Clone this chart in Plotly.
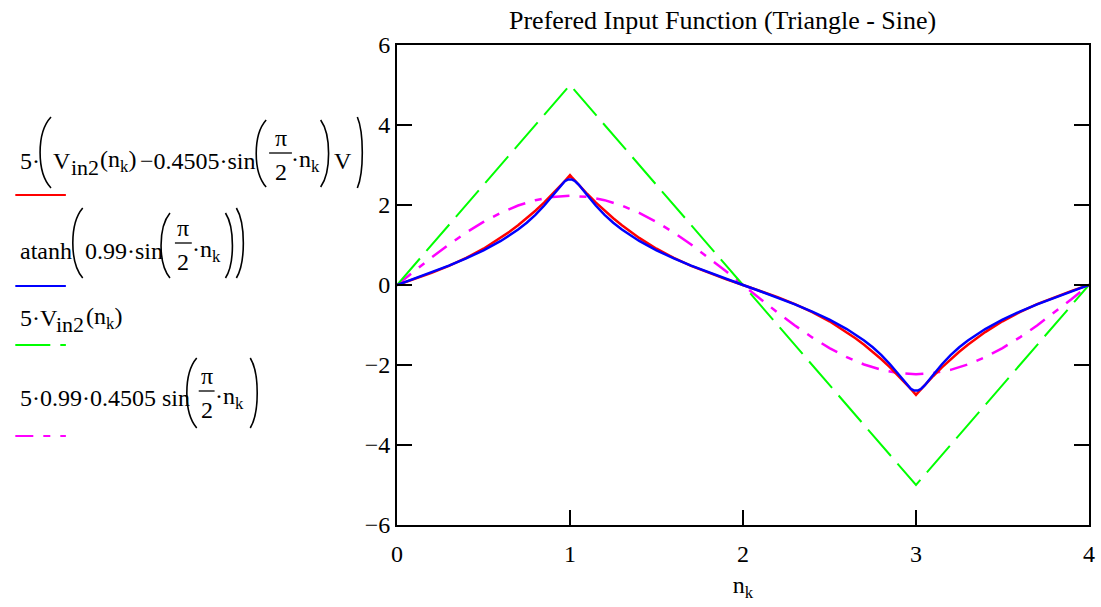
import plotly.graph_objects as go

# ---- data ----
n_curve = [0, 0.1, 0.2, 0.3, 0.4, 0.5, 0.6, 0.65, 0.7, 0.75, 0.8, 0.85, 0.9, 0.95, 0.97, 0.99, 1.0,
           1.01, 1.03, 1.05, 1.1, 1.15, 1.2, 1.25, 1.3, 1.35, 1.4, 1.5, 1.6, 1.7, 1.8, 1.9, 2.0,
           2.1, 2.2, 2.3, 2.4, 2.5, 2.6, 2.65, 2.7, 2.75, 2.8, 2.85, 2.9, 2.95, 2.97, 2.99, 3.0,
           3.01, 3.03, 3.05, 3.1, 3.15, 3.2, 3.25, 3.3, 3.35, 3.4, 3.5, 3.6, 3.7, 3.8, 3.9, 4.0]

red_vals = [0, 0.1476, 0.3039, 0.4774, 0.6760, 0.9072, 1.1777, 1.3294, 1.4930, 1.6690, 1.8577, 2.0597, 2.2752, 2.5044, 2.6000, 2.6978, 2.7475,
            2.6978, 2.6000, 2.5044, 2.2752, 2.0597, 1.8577, 1.6690, 1.4930, 1.3294, 1.1777, 0.9072, 0.6760, 0.4774, 0.3039, 0.1476, 0,
            -0.1476, -0.3039, -0.4774, -0.6760, -0.9072, -1.1777, -1.3294, -1.4930, -1.6690, -1.8577, -2.0597, -2.2752, -2.5044, -2.6000, -2.6978, -2.7475,
            -2.6978, -2.6000, -2.5044, -2.2752, -2.0597, -1.8577, -1.6690, -1.4930, -1.3294, -1.1777, -0.9072, -0.6760, -0.4774, -0.3039, -0.1476, 0]

blue_vals = [0, 0.1561, 0.3161, 0.4840, 0.6653, 0.8674, 1.1012, 1.2353, 1.3852, 1.5552, 1.7515, 1.9809, 2.2451, 2.5128, 2.5942, 2.6406, 2.6467,
             2.6406, 2.5942, 2.5128, 2.2451, 1.9809, 1.7515, 1.5552, 1.3852, 1.2353, 1.1012, 0.8674, 0.6653, 0.4840, 0.3161, 0.1561, 0,
             -0.1561, -0.3161, -0.4840, -0.6653, -0.8674, -1.1012, -1.2353, -1.3852, -1.5552, -1.7515, -1.9809, -2.2451, -2.5128, -2.5942, -2.6406, -2.6467,
             -2.6406, -2.5942, -2.5128, -2.2451, -1.9809, -1.7515, -1.5552, -1.3852, -1.2353, -1.1012, -0.8674, -0.6653, -0.4840, -0.3161, -0.1561, 0]

n_tri = [0, 1, 2, 3, 4]
green_vals = [0, 5, 0, -5, 0]

n_sine = [0, 0.1, 0.2, 0.3, 0.4, 0.5, 0.6, 0.7, 0.8, 0.9, 1.0,
          1.1, 1.2, 1.3, 1.4, 1.5, 1.6, 1.7, 1.8, 1.9, 2.0,
          2.1, 2.2, 2.3, 2.4, 2.5, 2.6, 2.7, 2.8, 2.9, 3.0,
          3.1, 3.2, 3.3, 3.4, 3.5, 3.6, 3.7, 3.8, 3.9, 4.0]
magenta_vals = [0, 0.3488, 0.6891, 1.0124, 1.3108, 1.5768, 1.8041, 1.9869, 2.1209, 2.2025, 2.2300,
                2.2025, 2.1209, 1.9869, 1.8041, 1.5768, 1.3108, 1.0124, 0.6891, 0.3488, 0,
                -0.3488, -0.6891, -1.0124, -1.3108, -1.5768, -1.8041, -1.9869, -2.1209, -2.2025, -2.2300,
                -2.2025, -2.1209, -1.9869, -1.8041, -1.5768, -1.3108, -1.0124, -0.6891, -0.3488, 0]

x_ticks = [0, 1, 2, 3, 4]
y_ticks = [-6, -4, -2, 0, 2, 4, 6]
y_tick_labels = ["−6", "−4", "−2", "0", "2", "4", "6"]

title_text = "Prefered Input Function (Triangle - Sine)"
x_title = "n<sub>k</sub>"

FONT = "Liberation Serif"

# plot area in pixels
W, H = 1101, 607
L, R, T, B = 397, 1095, 45, 525


def px(x):
    return (x - L) / (R - L)


def py(y):
    return (B - y) / (B - T)


fig = go.Figure()
fig.add_trace(go.Scatter(x=n_sine, y=magenta_vals, mode="lines",
                         line=dict(color="#ff00ff", width=2.5, dash="18px,10px,7px,10px")))
fig.add_trace(go.Scatter(x=n_tri, y=green_vals, mode="lines",
                         line=dict(color="#00ff00", width=2, dash="35px,10px")))
fig.add_trace(go.Scatter(x=n_curve, y=red_vals, mode="lines",
                         line=dict(color="#ff0000", width=2.5)))
fig.add_trace(go.Scatter(x=n_curve, y=blue_vals, mode="lines",
                         line=dict(color="#0000ff", width=2.5)))

annotations = []
shapes = []


def text_at(s, x, y, size=24, anchor="left"):
    annotations.append(dict(text=s, x=px(x), y=py(y), xref="paper", yref="paper",
                            showarrow=False, font=dict(family=FONT, size=size, color="black"),
                            xanchor=anchor, yanchor="middle", borderpad=0, borderwidth=0))


def paren(a, b, top, bot, left=True):
    if left:
        xe, xm = b - 2, a + 2
    else:
        xe, xm = a + 2, b - 2
    xc = (xm - 0.25 * xe) / 0.75
    h = bot - top
    path = "M {:.5f},{:.5f} C {:.5f},{:.5f} {:.5f},{:.5f} {:.5f},{:.5f}".format(
        px(xe), py(top), px(xc), py(top + 0.22 * h), px(xc), py(bot - 0.22 * h), px(xe), py(bot))
    shapes.append(dict(type="path", xref="paper", yref="paper", path=path,
                       line=dict(color="black", width=1.6)))


def fraction(xc, x0, x1, bar_y):
    text_at("π", xc, bar_y - 15, anchor="center")
    shapes.append(dict(type="line", xref="paper", yref="paper",
                       x0=px(x0), x1=px(x1), y0=py(bar_y), y1=py(bar_y),
                       line=dict(color="black", width=1.3)))
    text_at("2", xc, bar_y + 19, anchor="center")


def sample(x0, x1, y, color, dash):
    shapes.append(dict(type="line", xref="paper", yref="paper",
                       x0=px(x0), x1=px(x1), y0=py(y), y1=py(y),
                       line=dict(color=color, width=2, dash=dash)))


# title
text_at(title_text, 725, 20, size=26, anchor="center")

# legend entry 1
t = 161
text_at("5·", 17, t)
paren(35, 50, 117, 188, True)
text_at("V", 50, t)
text_at("in2", 68, t + 6, size=22)
text_at("(n<sub>k</sub>)", 97, t)
text_at("−0.4505·sin", 138, t)
paren(253, 267, 120, 187, True)
fraction(280, 268, 291, 153)
text_at("·n<sub>k</sub>", 290, t)
paren(318, 330, 120, 187, False)
text_at("V", 333, t)
paren(355, 364, 117, 188, False)
sample(12, 63, 195, "#ff0000", "solid")

# legend entry 2
t = 251
text_at("atanh", 17, t)
paren(68, 82, 208, 278, True)
text_at("0.99·sin", 82, t)
paren(157, 170, 213, 278, True)
fraction(181, 173, 190, 243)
text_at("·n<sub>k</sub>", 190, t)
paren(222, 233, 213, 278, False)
paren(233, 244, 208, 278, False)
sample(12, 63, 286, "#0000ff", "solid")

# legend entry 3
t = 318
text_at("5·V", 17, t)
text_at("in2", 53, t + 6, size=22)
text_at("(n<sub>k</sub>)", 83, t)
sample(12, 63, 345, "#00ff00", "35px,10px")

# legend entry 4
t = 398
text_at("5·0.99·0.4505 sin", 17, t)
paren(183, 197, 358, 428, True)
fraction(205, 197, 213, 391)
text_at("·n<sub>k</sub>", 213, t)
paren(247, 258, 358, 428, False)
sample(12, 63, 436, "#ff00ff", "18px,10px,7px,10px")

fig.update_layout(
    width=W, height=H,
    margin=dict(l=L, r=W - R, t=T, b=H - B),
    paper_bgcolor="white", plot_bgcolor="white",
    showlegend=False,
    font=dict(family=FONT, size=24, color="black"),
    annotations=annotations,
    shapes=shapes,
)
fig.update_xaxes(range=[0, 4], tickvals=x_ticks, ticks="inside", ticklen=15, tickwidth=1.5,
                 tickcolor="black", showline=True, linecolor="black", linewidth=2, mirror=True,
                 showgrid=False, zeroline=False, ticklabelstandoff=6,
                 tickfont=dict(family=FONT, size=24),
                 title=dict(text=x_title, standoff=10, font=dict(family=FONT, size=24)))
fig.update_yaxes(range=[-6, 6], tickvals=y_ticks, ticktext=y_tick_labels,
                 ticks="inside", ticklen=15, tickwidth=1.5,
                 tickcolor="black", showline=True, linecolor="black", linewidth=2, mirror="ticks",
                 showgrid=False, zeroline=False, ticklabelstandoff=0,
                 tickfont=dict(family=FONT, size=24))

fig.write_html("out.html", config={"displayModeBar": False},
               post_script="document.body.style.margin='0';document.body.style.overflow='hidden';")
